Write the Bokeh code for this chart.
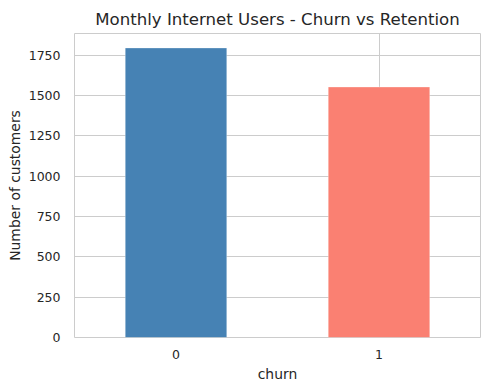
from bokeh.plotting import figure
from bokeh.models import Range1d, FixedTicker
from bokeh.embed import file_html
from bokeh.resources import INLINE

churn = ["0", "1"]
customers = [1795, 1553]
colors = ["#4682B4", "#FA8072"]
y_ticks = [0, 250, 500, 750, 1000, 1250, 1500, 1750]

FONT = "DejaVu Sans"
TXT = "#262626"

p = figure(width=490, height=390, x_range=churn, y_range=Range1d(0, max(customers) * 1.05),
           output_backend="svg", toolbar_location=None,
           title="Monthly Internet Users - Churn vs Retention",
           min_border_left=74, min_border_right=10, min_border_top=33, min_border_bottom=53)

p.vbar(x=churn, top=customers, width=0.5, fill_color=colors, line_color="white", line_width=0.6, line_alpha=0.5)

p.title.align = "center"
p.title.text_font = FONT
p.title.text_font_size = "16.6px"
p.title.text_font_style = "normal"
p.title.text_color = TXT

p.yaxis.ticker = FixedTicker(ticks=y_ticks)
for ax in (p.xaxis[0], p.yaxis[0]):
    ax.axis_line_color = None
    ax.major_tick_line_color = None
    ax.minor_tick_line_color = None
    ax.major_label_text_font = FONT
    ax.major_label_text_font_size = "12.5px"
    ax.major_label_text_color = TXT
    ax.axis_label_text_font = FONT
    ax.axis_label_text_font_size = "13.9px"
    ax.axis_label_text_font_style = "normal"
    ax.axis_label_text_color = TXT

p.yaxis.major_label_standoff = 8
p.xaxis.major_label_standoff = 6
p.xaxis.axis_label_standoff = 4
p.yaxis.axis_label_standoff = 3

p.xaxis.axis_label = "churn"
p.yaxis.axis_label = "Number of customers"

p.xgrid.grid_line_color = "#cccccc"
p.ygrid.grid_line_color = "#cccccc"
p.outline_line_color = "#cccccc"
p.outline_line_width = 1
p.background_fill_color = "white"
p.border_fill_color = "white"

open("out.html", "w").write(file_html(p, INLINE))
